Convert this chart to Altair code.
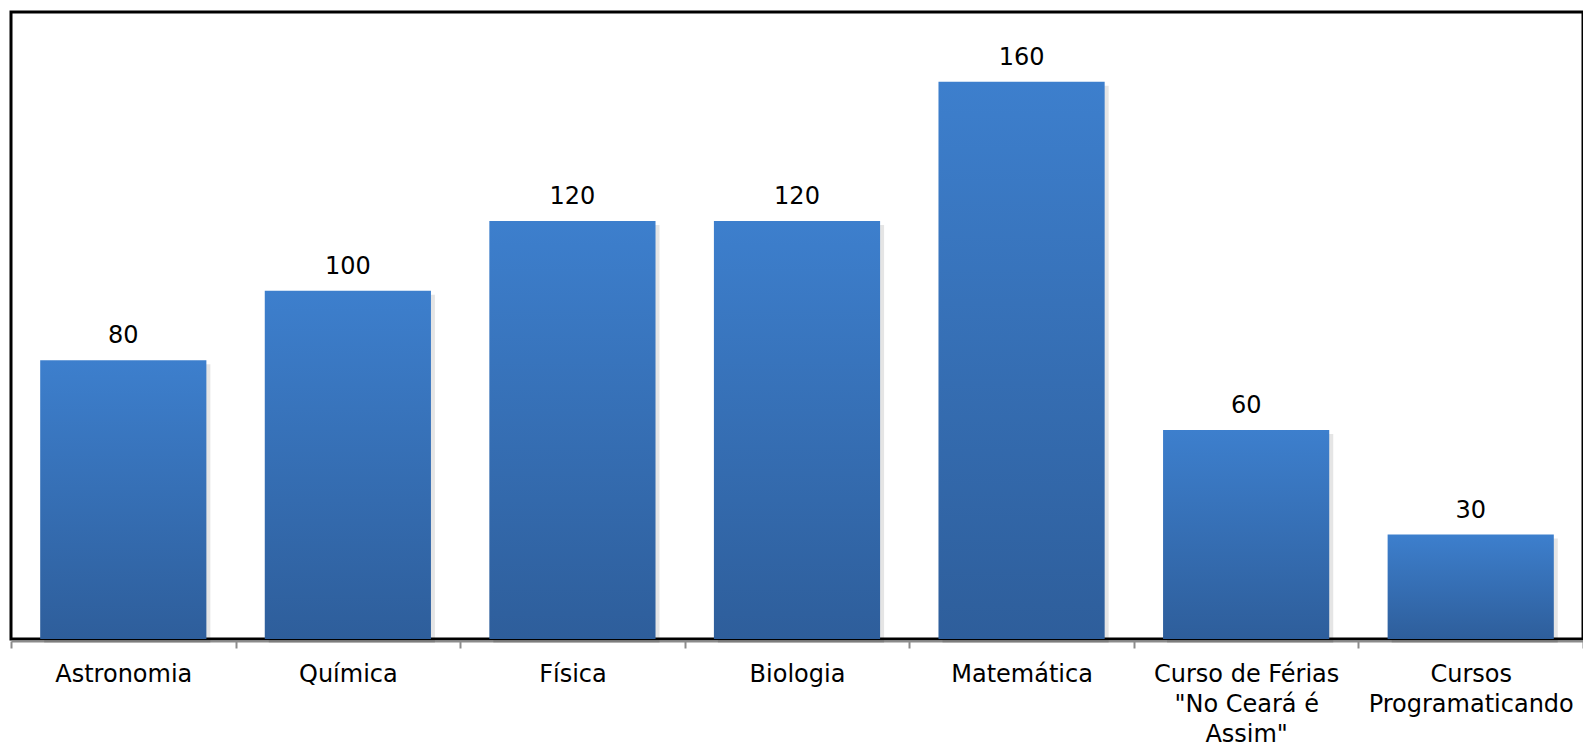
import altair as alt
import pandas as pd

categories = ["Astronomia", "Química", "Física", "Biologia", "Matemática",
              "Curso de Férias \"No Ceará é Assim\"", "Cursos Programaticando"]
values = [80, 100, 120, 120, 160, 60, 30]
tick_labels = ["Astronomia", "Química", "Física", "Biologia", "Matemática",
               "Curso de Férias\n\"No Ceará é\nAssim\"", "Cursos\nProgramaticando"]

df = pd.DataFrame({"cat": categories, "val": values})

# vega expression mapping category -> multi-line label
pairs = []
for c, l in zip(categories, tick_labels):
    c_esc = c.replace("\\", "\\\\").replace("'", "\\'")
    l_esc = l.replace("\\", "\\\\").replace("'", "\\'").replace("\n", "|")
    pairs.append(f"datum.label == '{c_esc}' ? '{l_esc}'")
label_expr = "split(" + " : ".join(pairs) + " : datum.label, '|')"

FONT = "DejaVu Sans"

x = alt.X("cat:N", sort=None, title=None,
          scale=alt.Scale(paddingInner=0, paddingOuter=0),
          axis=alt.Axis(labelAngle=0, labelExpr=label_expr, labelFont=FONT,
                        labelFontSize=24, labelColor="#000", labelLineHeight=30,
                        labelPadding=14, labelBaseline="top",
                        domainColor="#8c8c8c", domainWidth=2, offset=2,
                        tickColor="#8c8c8c", tickWidth=2, tickSize=7,
                        tickBand="extent", labelLimit=400))
y = alt.Y("val:Q", title=None, axis=None, scale=alt.Scale(domain=[0, 180], nice=False))

BAR_W = alt.RelativeBandSize(0.74)

shadow = alt.Chart(df).mark_bar(color="#000000", opacity=0.10, xOffset=4, yOffset=4,
                                width=BAR_W).encode(x=x, y=y)

bars = alt.Chart(df).mark_bar(
    width=BAR_W,
    color=alt.Gradient(gradient="linear",
                       stops=[alt.GradientStop(color="#3d7fcd", offset=0),
                              alt.GradientStop(color="#2e5e9b", offset=1)],
                       x1=0, x2=0, y1=0, y2=1)
).encode(x=x, y=y)

text = alt.Chart(df).mark_text(font=FONT, fontSize=24, color="#000", dy=-17,
                               baseline="alphabetic").encode(x=x, y=y, text="val:Q")

chart = alt.layer(shadow, bars, text).properties(
    width=1572, height=627,
    padding={"left": 3, "top": 4, "right": 0, "bottom": 108},
    autosize=alt.AutoSizeParams(type="none"),
).configure_view(stroke="#000000", strokeWidth=3)

chart.save("out.html", embed_options={"renderer": "svg", "actions": False})
